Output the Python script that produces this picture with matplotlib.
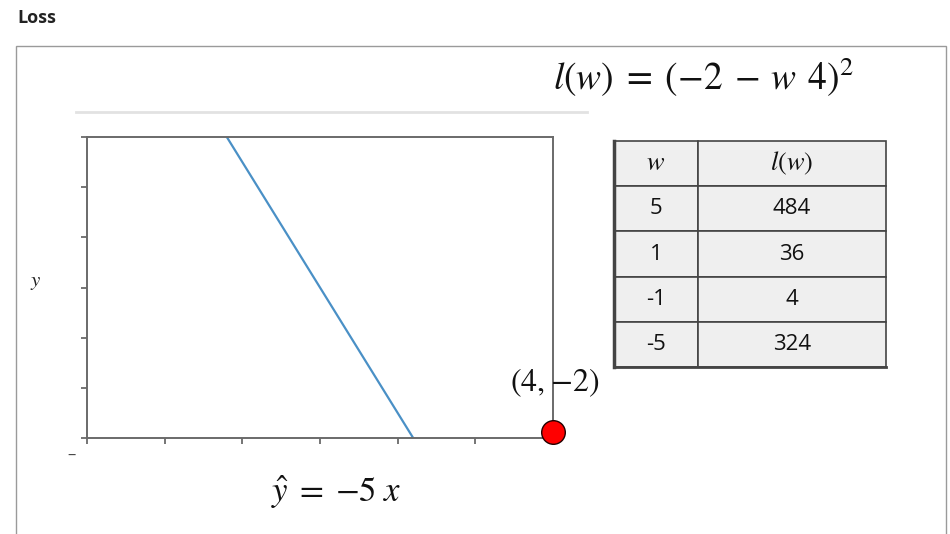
import matplotlib
matplotlib.use("Agg")
import matplotlib.pyplot as plt
from matplotlib.patches import Rectangle
from matplotlib.lines import Line2D

plt.rcParams['mathtext.fontset'] = 'stix'
plt.rcParams['font.family'] = ['Open Sans', 'DejaVu Sans']

# ---- data ----
line_x = [-1.2, 1.2]          # y_hat = -5 x, where it crosses the plot frame
line_y = [6.0, -6.0]
x_ticks = [-3, -2, -1, 0, 1, 2, 3]
y_ticks = [-6, -4, -2, 0, 2, 4, 6]
point_label = r'$(4,\!-\!2)$'
table_w = ['5', '1', '-1', '-5']
table_loss = ['484', '36', '4', '324']
title_text = 'Loss'
loss_eq = r'$l(w)\;=\;(-2\;-\,w\;\,4)^2$'
model_eq = r'$\hat{y}\;=\;{-5}\;x$'

W, H = 950, 534
fig = plt.figure(figsize=(W / 100, H / 100), dpi=100)

def fx(px):
    return px / W

def fy(py):
    return 1 - py / H

# page title and frame
fig.text(fx(17), fy(18), title_text, fontsize=13, fontweight='bold', color='#222222',
         ha='left', va='center')
fig.patches.append(Rectangle((fx(16), fy(560)), fx(946) - fx(16), fy(46) - fy(560),
                             transform=fig.transFigure, fill=False, edgecolor='#9a9a9a',
                             linewidth=1.0))
# faint separator line above plot
fig.lines.append(Line2D([fx(76), fx(587)], [fy(112), fy(112)], transform=fig.transFigure,
                        color='#e2e2e2', linewidth=2))

# ---- main plot ----
ax = fig.add_axes([fx(87), fy(438), fx(553) - fx(87), fy(137) - fy(438)])
ax.plot(line_x, line_y, color='#4a90c6', linewidth=1.6)
ax.set_xlim(x_ticks[0], x_ticks[-1])
ax.set_ylim(y_ticks[0], y_ticks[-1])
ax.set_xticks(x_ticks)
ax.set_yticks(y_ticks)
ax.set_xticklabels([])
ax.set_yticklabels([])
for s in ax.spines.values():
    s.set_color('#6a6a6a')
    s.set_linewidth(1.4)
ax.tick_params(axis='both', direction='out', length=4, width=1.3, color='#6a6a6a')

# red point at the lower right corner of the frame
ax.plot([1.0], [0.02], 'o', transform=ax.transAxes, markersize=17,
        markerfacecolor='#ff0000', markeredgecolor='#220000', markeredgewidth=1.0,
        clip_on=False, zorder=5)
fig.text(fx(555), fy(383), point_label, fontsize=23, ha='center', va='center', color='#111111')

# axis label and cropped tick-label fragment
fig.text(fx(36), fy(281), r'$y$', fontsize=15, ha='center', va='center', color='#222222')
fig.text(fx(72), fy(456), '\u2013', fontsize=12, ha='center', va='center', color='#444444')

# equations
fig.text(fx(703), fy(77), loss_eq, fontsize=27, ha='center', va='center', color='#111111')
fig.text(fx(336), fy(492), model_eq, fontsize=25, ha='center', va='center', color='#111111')

# ---- table ----
tax = fig.add_axes([fx(614), fy(367), fx(886) - fx(614), fy(141) - fy(367)])
tax.axis('off')
cell_text = [[r'$w$', r'$l(w)$']] + [[a, b] for a, b in zip(table_w, table_loss)]
tbl = tax.table(cellText=cell_text, cellLoc='center', bbox=[0, 0, 1, 1],
                colWidths=[84 / 272, 188 / 272])
tbl.auto_set_font_size(False)
for (r, c), cell in tbl.get_celld().items():
    cell.set_facecolor('#efefef')
    cell.set_edgecolor('#444444')
    cell.set_linewidth(1.2)
    cell.get_text().set_fontsize(19 if r == 0 else 16)
    cell.get_text().set_color('#111111')
# thicker left and bottom border
tax.plot([0, 0], [0, 1], color='#444444', linewidth=2.5, clip_on=False)
tax.plot([0, 1], [0, 0], color='#444444', linewidth=2.0, clip_on=False)
tax.set_xlim(0, 1)
tax.set_ylim(0, 1)

fig.savefig('out.png', dpi=100)
